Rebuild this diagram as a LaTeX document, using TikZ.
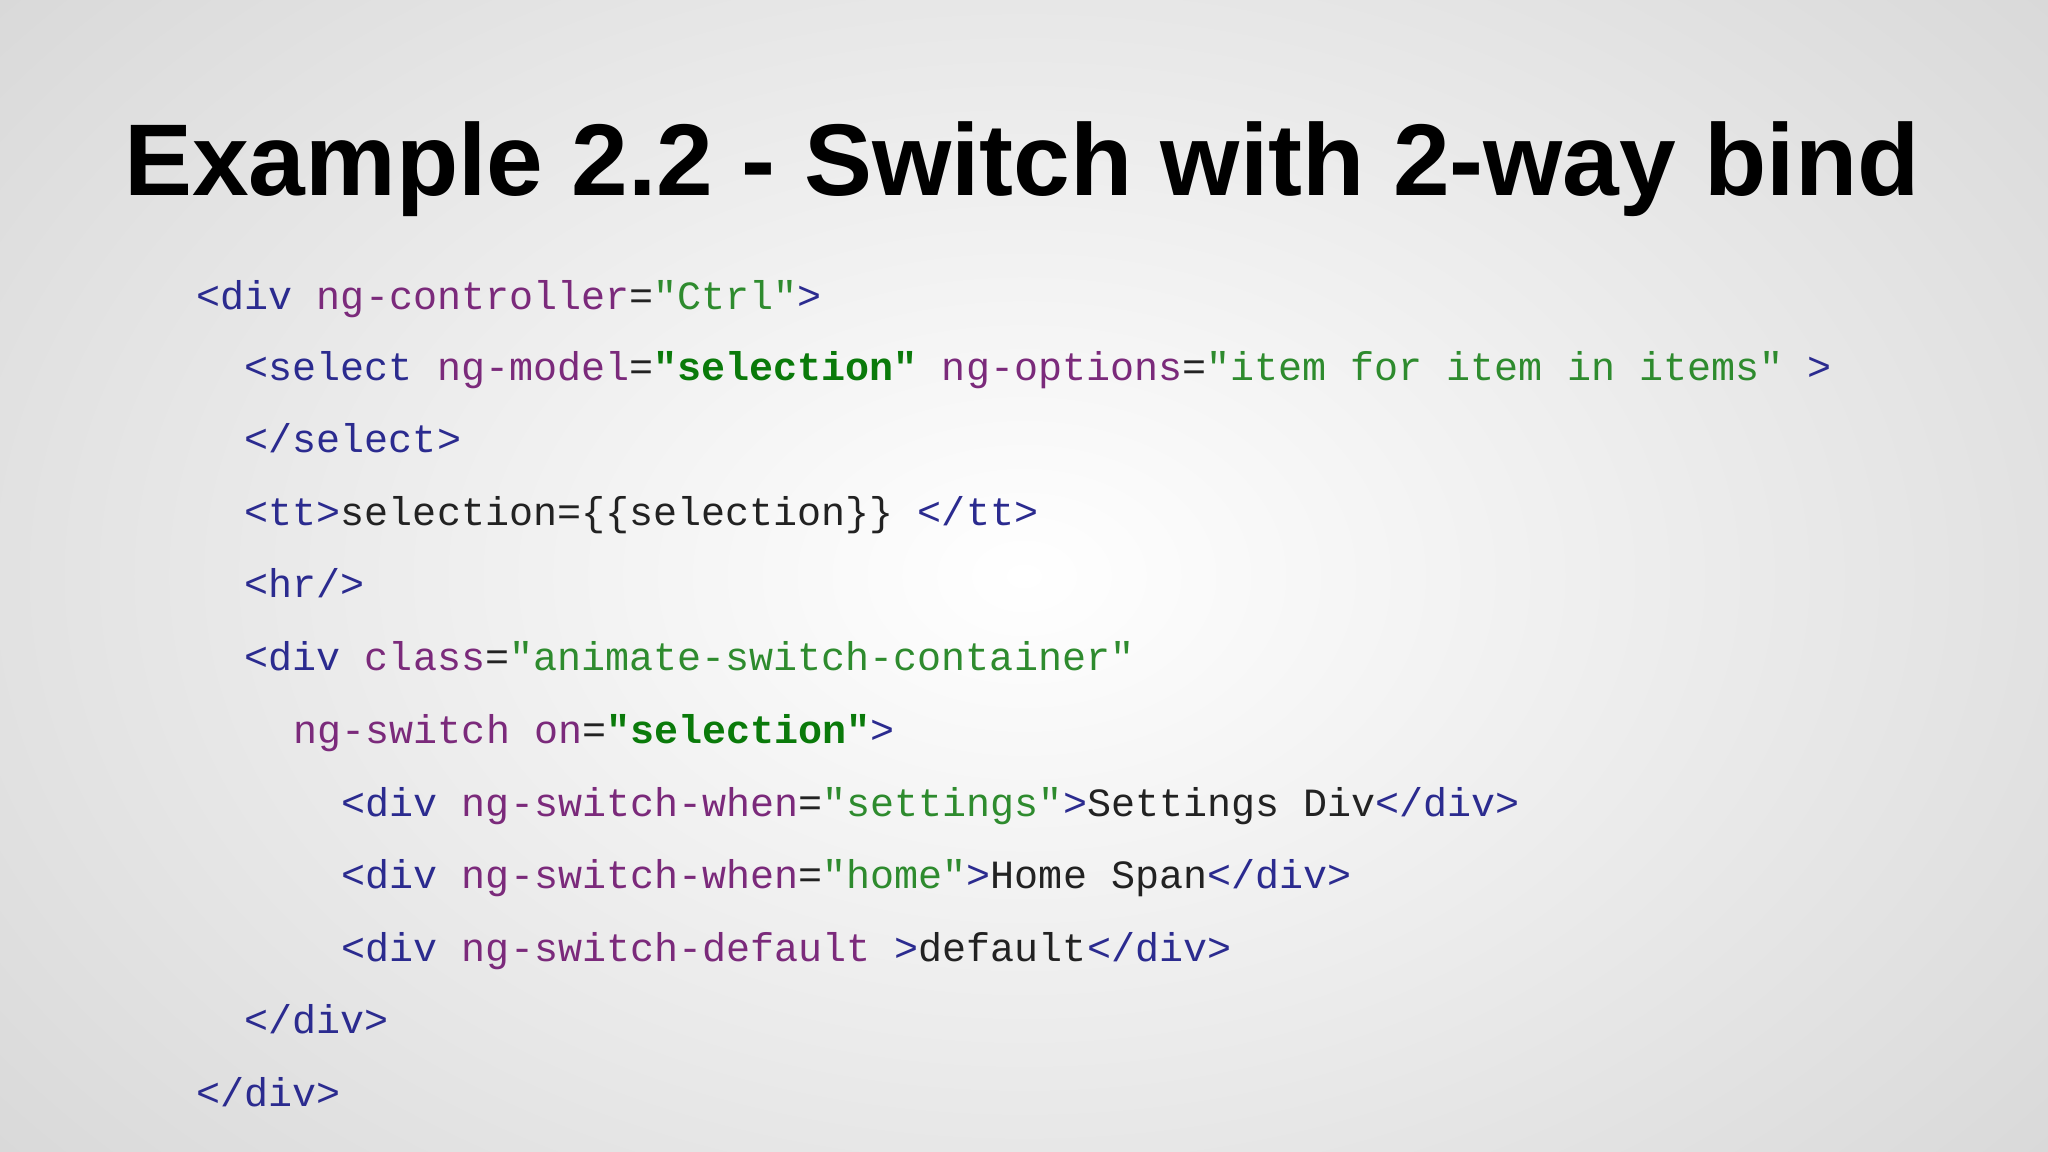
\documentclass[tikz,border=0pt]{standalone}
\usepackage{fontspec}
\setmainfont{Liberation Sans}
\newfontfamily\code{Liberation Mono}
\definecolor{tagc}{HTML}{2B2B8F}
\definecolor{attc}{HTML}{7B2A7B}
\definecolor{strc}{HTML}{2E8B2E}
\definecolor{bstr}{HTML}{0A7A0A}
\definecolor{txtc}{HTML}{222222}
\newcommand{\T}[1]{\textcolor{tagc}{#1}}
\newcommand{\A}[1]{\textcolor{attc}{#1}}
\newcommand{\Sg}[1]{\textcolor{strc}{#1}}
\newcommand{\B}[1]{\textcolor{bstr}{\bfseries #1}}
\newcommand{\X}[1]{\textcolor{txtc}{#1}}
\begin{document}
\begin{tikzpicture}[x=1cm,y=1cm,
  cl/.style={anchor=base west,inner sep=0pt,font=\code\fontsize{11.4pt}{13pt}\selectfont}]
\useasboundingbox (0,0) rectangle (20.48,-11.52);
\shade[inner color=white,outer color=black!16] (-4,4) rectangle (24.48,-15.52);
\node[anchor=base,inner sep=0pt,font=\bfseries\fontsize{29pt}{34pt}\selectfont] (title) at (10.22,-1.96) {Example 2.2 - Switch with 2-way bind};
\node[cl] (l1) at (1.96,-3.095) {\T{<div} \A{ng-controller}\X{=}\Sg{"Ctrl"}\T{>}};
\node[cl] (l2) at (2.44,-3.81) {\T{<select} \A{ng-model}\X{=}\B{"selection"} \A{ng-options}\X{=}\Sg{"item for item in items"} \T{>}};
\node[cl] (l3) at (2.44,-4.53) {\T{</select>}};
\node[cl] (l4) at (2.44,-5.26) {\T{<tt>}\X{selection=\{\{selection\}\} }\T{</tt>}};
\node[cl] (l5) at (2.44,-5.98) {\T{<hr/>}};
\node[cl] (l6) at (2.44,-6.71) {\T{<div} \A{class}\X{=}\Sg{"animate-switch-container"}};
\node[cl] (l7) at (2.93,-7.43) {\A{ng-switch} \A{on}\X{=}\B{"selection"}\T{>}};
\node[cl] (l8) at (3.41,-8.16) {\T{<div} \A{ng-switch-when}\X{=}\Sg{"settings"}\T{>}\X{Settings Div}\T{</div>}};
\node[cl] (l9) at (3.41,-8.88) {\T{<div} \A{ng-switch-when}\X{=}\Sg{"home"}\T{>}\X{Home Span}\T{</div>}};
\node[cl] (l10) at (3.41,-9.61) {\T{<div} \A{ng-switch-default} \T{>}\X{default}\T{</div>}};
\node[cl] (l11) at (2.44,-10.33) {\T{</div>}};
\node[cl] (l12) at (1.96,-11.06) {\T{</div>}};
\end{tikzpicture}
\end{document}
